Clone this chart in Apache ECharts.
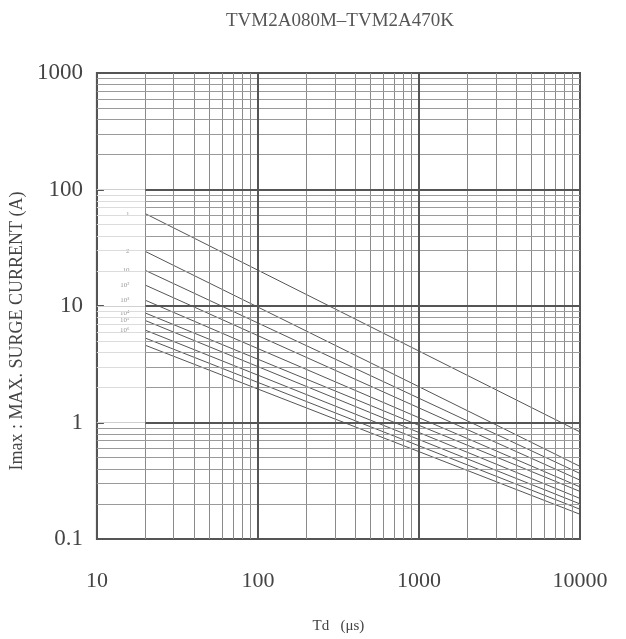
<!DOCTYPE html>
<html>
<head>
<meta charset="utf-8">
<script src="https://cdn.jsdelivr.net/npm/echarts@6/dist/echarts.min.js"></script>
<style>html,body{margin:0;padding:0;background:#fff;}#chart{width:626px;height:639px;}</style>
</head>
<body>
<div id="chart"></div>
<script>
// Td (µs) at which each curve starts and ends
const tdValues = [20, 10000];
// Imax (A) of each curve at those Td values
const curve1 = [62, 0.83];
const curve2 = [29.4, 0.42];
const curve3 = [20.2, 0.365];
const curve4 = [15.1, 0.32];
const curve5 = [11.2, 0.28];
const curve6 = [8.7, 0.256];
const curve7 = [7.5, 0.223];
const curve8 = [6.2, 0.20];
const curve9 = [5.3, 0.18];
const curve10 = [4.6, 0.163];
const curveLabels = ['1', '2', '10', '10²', '10³', '10⁴', '10⁵', '10⁶', '', ''];
const xTickLabels = ['10', '100', '1000', '10000'];
const yTickLabels = ['0.1', '1', '10', '100', '1000'];
const xDecades = [10, 100, 1000];
const yDecades = [0.1, 1, 10, 100];
const minorSteps = [2, 3, 4, 5, 6, 7, 8, 9];

const curves = [curve1, curve2, curve3, curve4, curve5, curve6, curve7, curve8, curve9, curve10];
const serif = 'Liberation Serif';
const textColor = '#444';

const chart = echarts.init(document.getElementById('chart'));

// grid lines
const gridMarks = [];
const ln = (a, b, color, width) => [{coord: a, lineStyle: {color: color, width: width, type: 'solid'}}, {coord: b}];
xDecades.forEach(d => minorSteps.forEach(m => {
  gridMarks.push(ln([d * m, 0.1], [d * m, 1000], '#8a8a8a', 1));
}));
yDecades.forEach(d => minorSteps.forEach(m => {
  const v = d * m;
  if (v >= 1 && v < 100) {
    gridMarks.push(ln([10, v], [20, v], '#dcdcdc', 1));
    gridMarks.push(ln([20, v], [10000, v], '#9a9a9a', 1));
  } else {
    gridMarks.push(ln([10, v], [10000, v], '#9a9a9a', 1));
  }
}));
[100, 1000].forEach(v => gridMarks.push(ln([v, 0.1], [v, 1000], '#555', 2)));
[1, 10, 100].forEach(v => {
  gridMarks.push(ln([10, v], [20, v], '#d0d0d0', 1));
  gridMarks.push(ln([20, v], [10000, v], '#555', 2));
});

const series = [{
  type: 'line',
  data: [],
  silent: true,
  z: 1,
  markLine: {
    silent: true,
    symbol: ['none', 'none'],
    label: {show: false},
    emphasis: {disabled: true},
    data: gridMarks
  }
}];
curves.forEach((c, i) => {
  series.push({
    type: 'line',
    z: 3,
    showSymbol: true,
    symbol: 'circle',
    symbolSize: 0,
    silent: true,
    lineStyle: {color: '#555', width: 1},
    itemStyle: {color: '#555'},
    labelLayout: {hideOverlap: false},
    data: tdValues.map((t, k) => ({
      value: [t, c[k]],
      label: (k === 0 && curveLabels[i]) ? {
        show: true,
        position: 'left',
        distance: 16,
        offset: [0, -6],
        formatter: curveLabels[i],
        fontFamily: serif,
        fontSize: 7,
        color: '#999'
      } : {show: false}
    }))
  });
});

chart.setOption({
  animation: false,
  title: {
    text: 'TVM2A080M–TVM2A470K',
    left: 335,
    top: 7,
    textAlign: 'center',
    textStyle: {fontFamily: serif, fontWeight: 'normal', fontSize: 19, color: '#555'}
  },
  grid: {left: 93, right: 46, top: 73, bottom: 96, show: true, borderColor: '#555', borderWidth: 2, backgroundColor: 'transparent'},
  xAxis: {
    type: 'log', logBase: 10, min: 10, max: 10000,
    name: 'Td   (μs)', nameLocation: 'middle', nameGap: 80,
    nameTextStyle: {fontFamily: serif, fontSize: 15, color: textColor},
    axisLine: {show: true, lineStyle: {color: '#555', width: 2}},
    axisTick: {show: false},
    splitLine: {show: false},
    axisLabel: {
      margin: 31, fontFamily: serif, fontSize: 22, color: textColor,
      formatter: v => xTickLabels[Math.round(Math.log10(v)) - 1]
    }
  },
  yAxis: {
    type: 'log', logBase: 10, min: 0.1, max: 1000,
    name: 'Imax : MAX. SURGE CURRENT (A)', nameLocation: 'middle', nameGap: 56,
    nameTextStyle: {fontFamily: serif, fontSize: 18, color: textColor, padding: [0, 50, 0, 0]},
    axisLine: {show: true, lineStyle: {color: '#555', width: 2}},
    axisTick: {show: true, inside: true, length: 7, lineStyle: {color: '#555', width: 2}},
    splitLine: {show: false},
    axisLabel: {
      margin: 14, fontFamily: serif, fontSize: 23, color: textColor,
      formatter: v => yTickLabels[Math.round(Math.log10(v)) + 1]
    }
  },
  series: series
});
</script>
</body>
</html>
